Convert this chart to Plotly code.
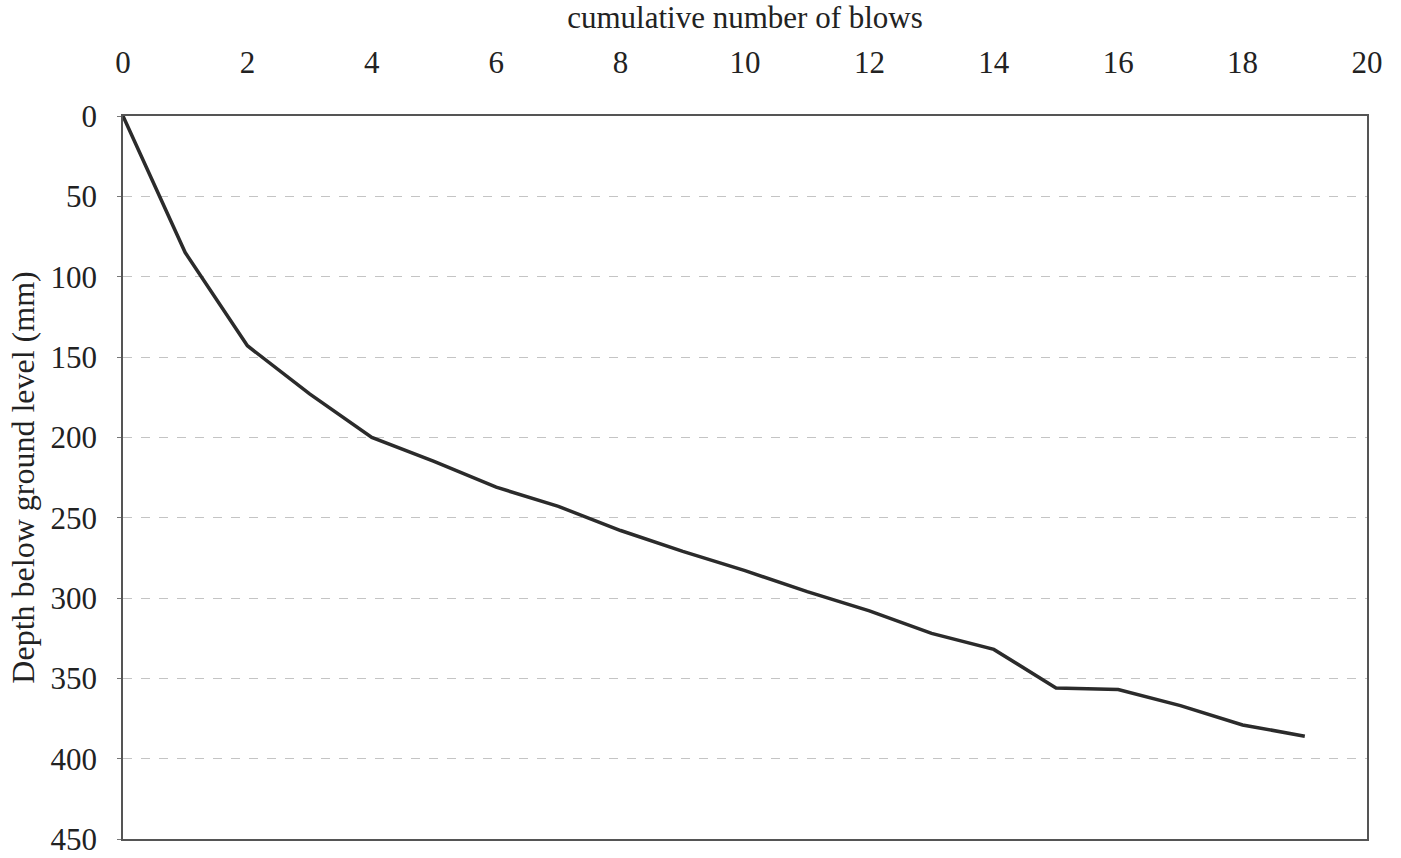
import plotly.graph_objects as go

# Penetration test record: cumulative blows vs depth below ground level
blows = list(range(0, 20))
depth_mm = [0, 85, 143, 173, 200, 215, 231, 243, 258, 271,
            283, 296, 308, 322, 332, 356, 357, 367, 379, 386]

x_ticks = list(range(0, 21, 2))
y_ticks = list(range(0, 451, 50))

FONT = "Liberation Serif, Times New Roman, serif"

fig = go.Figure()
fig.add_trace(go.Scatter(
    x=blows, y=depth_mm, mode="lines",
    line=dict(color="#2b2b2b", width=3.5),
    showlegend=False,
))

fig.update_layout(
    width=1401, height=858,
    margin=dict(l=123, r=34, t=116, b=19),
    paper_bgcolor="white", plot_bgcolor="white",
    font=dict(family=FONT, size=31, color="#222222"),
)

fig.update_xaxes(
    side="top", range=[0, 20], tickvals=x_ticks,
    showgrid=False, zeroline=False, automargin=False,
    showline=True, linecolor="#555555", linewidth=1.5, mirror=True,
    ticks="", ticklabelstandoff=29,
    title=dict(text="cumulative number of blows", font=dict(size=31), standoff=13),
)

fig.update_yaxes(
    range=[450, 0], tickvals=y_ticks,
    showgrid=True, gridcolor="#c4c4c4", griddash="dash", gridwidth=1,
    zeroline=False, automargin=False,
    showline=True, linecolor="#555555", linewidth=1.5, mirror=True,
    ticks="outside", ticklen=4, tickcolor="#777777", ticklabelstandoff=14,
    title=dict(text="Depth below ground level (mm)", font=dict(size=32), standoff=6),
)

fig.write_html("out.html")
